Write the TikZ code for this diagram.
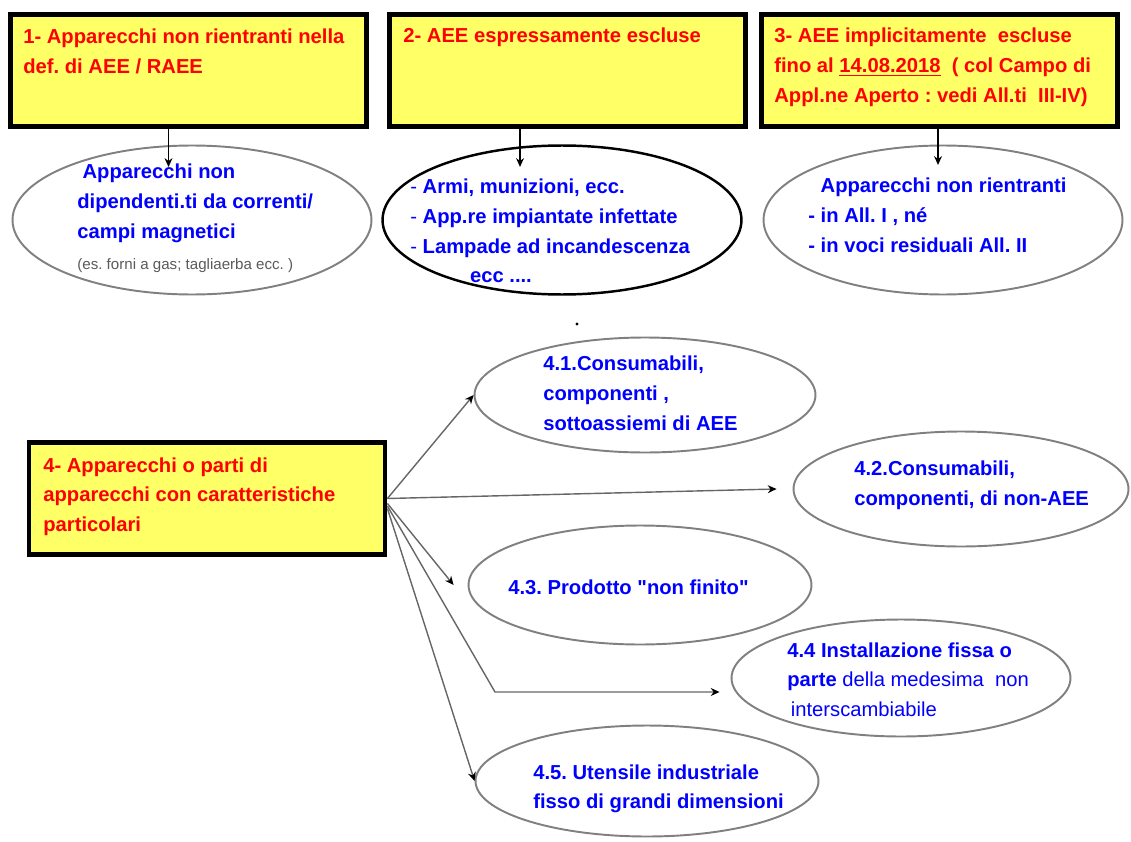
\documentclass[tikz,border=0pt]{standalone}
\usepackage{fontspec}
\setmainfont{Liberation Sans}
\usetikzlibrary{shapes.geometric,arrows.meta}
\definecolor{boxyellow}{RGB}{255,255,102}
\definecolor{ovalgray}{RGB}{128,128,128}
\definecolor{txtred}{RGB}{255,0,0}
\definecolor{txtblue}{RGB}{0,0,255}
\definecolor{notegray}{RGB}{90,90,90}
\frenchspacing

\begin{document}
\begin{tikzpicture}[x=0.02cm, y=-0.02cm,
    box/.style={draw=black, line width=2.8pt, fill=boxyellow, minimum width=7.12cm, minimum height=2.24cm, inner sep=0pt},
    oval/.style={ellipse, draw=ovalgray, line width=1.1pt, inner sep=0pt},
    redtxt/.style={anchor=north west, inner sep=0pt, align=left, text=txtred, font=\fontsize{11.5}{16.8}\selectfont\bfseries},
    bluetxt/.style={anchor=north west, inner sep=0pt, align=left, text=txtblue, font=\fontsize{11.5}{16.8}\selectfont\bfseries},
    notetxt/.style={anchor=north west, inner sep=0pt, text=notegray, font=\fontsize{8.6}{10}\selectfont},
    feed/.style={draw=black, line width=0.8pt, -{Stealth[length=5pt,width=4.5pt]}},
    branch/.style={draw=black!60, line width=0.8pt, -{Stealth[length=5pt,width=4.5pt,color=black]}}]
    \useasboundingbox (0,0) rectangle (1131,841);

    \node[box] (b1) at (188.5,70.5) {};
    \node[box] (b2) at (567.5,70.5) {};
    \node[box] (b3) at (939.5,70.5) {};
    \node[box] (b4) at (207,498.5) {};

    \node[redtxt] (t1) at (23,29) {1- Apparecchi non rientranti nella\\def. di AEE / RAEE};
    \node[redtxt] (t2) at (403,28) {2- AEE espressamente escluse};
    \node[redtxt] (t3) at (774,28) {3- AEE implicitamente\ \ escluse\\fino al \underline{14.08.2018}\ \ ( col Campo di\\Appl.ne Aperto : vedi All.ti\ \ III-IV)};
    \node[redtxt] (t4) at (43,457) {4- Apparecchi o parti di\\apparecchi con caratteristiche\\particolari};

    \node[oval, minimum width=7.18cm, minimum height=2.98cm] (e1) at (192,220) {};
    \node[oval, draw=black, line width=1.4pt, minimum width=7.18cm, minimum height=2.98cm] (e2) at (562,220) {};
    \node[oval, minimum width=7.18cm, minimum height=2.98cm] (e3) at (943,220) {};
    \node[oval, minimum width=6.82cm, minimum height=2.3cm] (e41) at (645,395) {};
    \node[oval, minimum width=6.7cm, minimum height=2.3cm] (e42) at (961,489) {};
    \node[oval, minimum width=6.86cm, minimum height=2.38cm] (e43) at (640,585) {};
    \node[oval, minimum width=6.78cm, minimum height=2.34cm] (e44) at (901,678) {};
    \node[oval, minimum width=6.86cm, minimum height=2.22cm] (e45) at (647,781) {};

    \node[bluetxt] (u1) at (77,164) {\hspace{3pt}Apparecchi non\\dipendenti.ti da correnti/\\campi magnetici};
    \node[notetxt] (u1b) at (77,258) {(es. forni a gas; tagliaerba ecc. )};
    \node[bluetxt] (u2) at (410,179) {{\mdseries -} Armi, munizioni, ecc.\\{\mdseries -} App.re impiantate\ infettate\\{\mdseries -} Lampade ad incandescenza\\\hspace{34pt}ecc ....};
    \node[bluetxt] (u3) at (808,178) {\hspace{7pt}Apparecchi non rientranti\\- in All. I , né\\- in voci residuali All. II};
    \node[bluetxt] (u41) at (543,356) {4.1.Consumabili,\\componenti ,\\sottoassiemi di AEE};
    \node[bluetxt] (u42) at (854,461) {4.2.Consumabili,\\componenti, di non-AEE};
    \node[bluetxt] (u43) at (508,579) {4.3. Prodotto \textquotedbl non finito\textquotedbl};
    \node[bluetxt] (u44) at (787,642) {4.4 Installazione fissa o\\parte {\mdseries della medesima\ \ non}\\\hspace{2pt}{\mdseries interscambiabile}};
    \node[bluetxt] (u45) at (533,764) {4.5. Utensile industriale\\fisso di grandi dimensioni};

    \fill (577,324) circle (1.6);

    \draw[feed] ([xshift=-0.4cm]b1.south) -- ++(0,38);
    \draw[feed] ([xshift=-0.95cm]b2.south) -- ++(0,38);
    \draw[feed] ([xshift=-0.03cm]b3.south) -- ++(0,36);

    \coordinate (k44) at (495,692);
    \draw[branch] (b4.east) -- (e41.west);
    \draw[branch] (b4.east) -- ([xshift=-0.32cm]e42.west);
    \draw[branch] ([yshift=-0.1cm]b4.east) -- ([xshift=-0.28cm]e43.west);
    \draw[branch] ([yshift=-0.15cm]b4.east) -- (k44) -- ([xshift=-0.22cm]k44 -| e44.west);
    \draw[branch] ([yshift=-0.2cm]b4.east) -- (e45.west);
  \end{tikzpicture}
\end{document}
